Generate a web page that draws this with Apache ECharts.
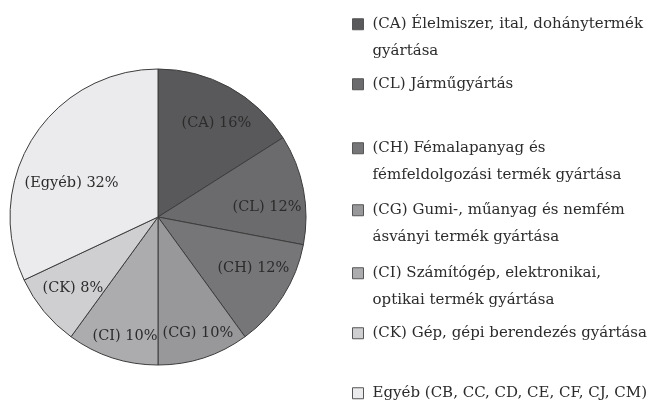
<!DOCTYPE html>
<html>
<head>
<meta charset="utf-8">
<script src="https://cdn.jsdelivr.net/npm/echarts@6/dist/echarts.min.js"></script>
<style>
  html, body { margin: 0; padding: 0; background: #fff; }
  #container { width: 651px; height: 403px; }
</style>
</head>
<body>
<div id="container"></div>
<script>
var dom = document.getElementById('container');
var myChart = echarts.init(dom, null, { renderer: 'canvas' });

// slice short codes and shares (%)
var codes = ['CA', 'CL', 'CH', 'CG', 'CI', 'CK', 'Egyéb'];
var shares = [16, 12, 12, 10, 10, 8, 32];
// legend texts
var legendNames = [
    '(CA) Élelmiszer, ital, dohánytermék\ngyártása',
    '(CL) Járműgyártás',
    '(CH) Fémalapanyag és\nfémfeldolgozási termék gyártása',
    '(CG) Gumi-, műanyag és nemfém\násványi termék gyártása',
    '(CI) Számítógép, elektronikai,\noptikai termék gyártása',
    '(CK) Gép, gépi berendezés gyártása',
    'Egyéb (CB, CC, CD, CE, CF, CJ, CM)'
];

var colors = ['#59595b', '#6b6b6e', '#767679', '#98989b', '#acacaf', '#cfcfd1', '#ebebed'];
// small nudges so the labels sit like in the original
var labelNudge = [[4, 5], [-2, 11], [0, -9], [5, 9], [2, 12], [2, -1], [9, 27]];
// legend row tops (px)
var legendTops = [11, 71, 135, 197, 260, 320, 380];

var fontFam = '"DejaVu Serif", serif';
var lineH = 26.5;

var pieData = legendNames.map(function (name, i) {
    return { name: name, value: shares[i], itemStyle: { color: colors[i] } };
});

var labelData = legendNames.map(function (name, i) {
    return {
        name: name,
        value: shares[i],
        label: {
            formatter: '(' + codes[i] + ') ' + shares[i] + '%',
            offset: labelNudge[i]
        }
    };
});

// square icon pinned to the first text line
var legends = legendNames.map(function (name, i) {
    var twoLines = name.indexOf('\n') >= 0;
    var h = twoLines ? 11 + lineH : 11;
    return {
        data: [name],
        left: 352,
        top: legendTops[i],
        padding: 0,
        icon: 'path://M0,0H11V11H0Z M15,' + h,
        itemWidth: 15,
        itemHeight: h,
        itemGap: 0,
        selectedMode: false,
        itemStyle: { borderColor: '#555', borderWidth: 1 },
        textStyle: {
            fontFamily: fontFam,
            fontSize: 15,
            color: '#2b2b2b',
            lineHeight: lineH
        }
    };
});

option = {
    animation: false,
    color: colors,
    legend: legends,
    series: [
        {
            type: 'pie',
            center: [158, 217],
            radius: 148,
            startAngle: 90,
            clockwise: true,
            silent: true,
            label: { show: false },
            labelLine: { show: false },
            itemStyle: { borderColor: '#3c3c3c', borderWidth: 1 },
            data: pieData
        },
        {
            type: 'pie',
            center: [158, 217],
            radius: 220,
            startAngle: 90,
            clockwise: true,
            silent: true,
            itemStyle: { color: 'rgba(0,0,0,0)', borderWidth: 0 },
            label: {
                show: true,
                position: 'inside',
                fontFamily: fontFam,
                fontSize: 14.5,
                color: '#2b2b2b'
            },
            labelLine: { show: false },
            data: labelData
        }
    ]
};

myChart.setOption(option);
</script>
</body>
</html>
